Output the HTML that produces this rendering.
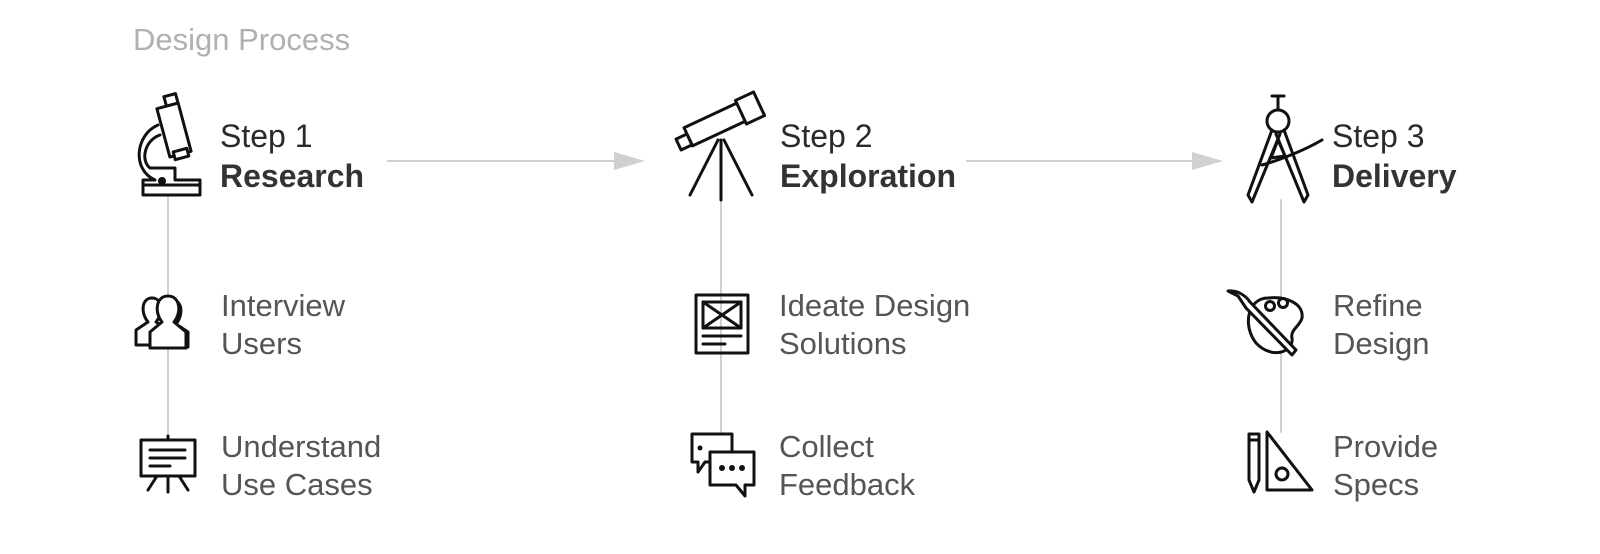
<!DOCTYPE html>
<html><head><meta charset="utf-8"><style>
body{margin:0;width:1600px;height:554px;background:#fff;position:relative;overflow:hidden;font-family:"Liberation Sans",sans-serif}
.t{position:absolute;white-space:nowrap}
.title{left:133px;top:22px;font-size:31px;color:#b0b0b0}
.s{font-size:32px;color:#2a2a2a;line-height:40px}
.s b{font-size:32px;color:#333}
.l{font-size:31px;color:#555;line-height:38px}
svg{position:absolute;left:0;top:0}
</style></head><body>
<div class="t title">Design Process</div>
<svg width="1600" height="554" fill="none" stroke="#111" stroke-width="3" stroke-linejoin="round" stroke-linecap="round">
<g stroke="#d0d0d0" stroke-width="2">
<line x1="168" y1="196" x2="168" y2="440"/>
<line x1="721" y1="200" x2="721" y2="432"/>
<line x1="1281" y1="200" x2="1281" y2="432"/>
<line x1="388" y1="161" x2="620" y2="161"/>
<line x1="967" y1="161" x2="1197" y2="161"/>
</g>
<polygon points="614,152 645,161 614,170" fill="#d0d0d0" stroke="none"/>
<polygon points="1192,152 1223,161 1192,170" fill="#d0d0d0" stroke="none"/>
<g fill="#fff">
<rect x="165" y="95" width="12" height="10" transform="rotate(-15 171 100)"/>
<rect x="163" y="105" width="22" height="50" transform="rotate(-15 174 130)"/>
<rect x="174" y="150" width="14" height="8" transform="rotate(-15 181 154)"/>
<path d="M158 125 C135 135 132 170 155 180 L143 180 L143 190 L200 190 L200 180 L175 180 L175 168 L150 168 C140 160 145 140 160 135"/>
<rect x="143" y="185" width="57" height="10"/>
</g>
<circle cx="162" cy="181" r="2.5" fill="#111"/>
<g fill="#fff">
<rect x="685" y="112" width="70" height="20" transform="rotate(-25 720 122)"/>
<rect x="740" y="95" width="20" height="26" transform="rotate(-25 750 108)"/>
<rect x="678" y="136" width="12" height="12" transform="rotate(-25 684 142)"/>
</g>
<path d="M718 140 L690 195 M721 140 L721 200 M724 140 L752 195"/>
<circle cx="1278" cy="121" r="11" fill="#fff"/>
<path d="M1278 96 L1278 110 M1272 96 L1284 96 M1272 130 L1248 195 L1252 202 L1280 134 M1284 130 L1308 195 L1304 202 L1276 134 M1262 165 C1280 160 1305 150 1322 140 M1271 158 L1278 140 L1285 156 Z"/>
<path d="M136 345 L136 330 L148 322 C140 312 142 298 152 298 C162 298 164 312 156 322 L168 330 L168 345 Z" fill="#fff"/>
<path d="M180 345 L180 330 L192 322 C184 312 186 298 196 298 C206 298 208 312 200 322 L212 330 L212 345 Z" fill="#fff" transform="translate(-24 2)"/>
<path d="M150 348 L150 332 L162 322 C154 312 156 296 168 296 C180 296 182 312 174 322 L186 332 L186 348 Z" fill="#fff"/>
<rect x="141" y="440" width="54" height="36"/>
<path d="M150 450 L185 450 M150 458 L185 458 M150 466 L170 466 M168 436 L168 440 M157 476 L148 490 M179 476 L188 490 M168 476 L168 492"/>
<rect x="696" y="295" width="52" height="58"/>
<rect x="703" y="302" width="38" height="26"/>
<path d="M703 302 L741 328 M741 302 L703 328 M703 336 L741 336 M703 344 L725 344"/>
<path d="M692 434 L732 434 L732 462 L705 462 L698 472 L698 462 L692 462 Z" fill="#fff"/>
<path d="M710 452 L754 452 L754 485 L745 485 L745 496 L736 485 L710 485 Z" fill="#fff"/>
<g fill="#111" stroke="none"><circle cx="722" cy="468" r="3"/><circle cx="732" cy="468" r="3"/><circle cx="742" cy="468" r="3"/><circle cx="700" cy="448" r="2.5"/></g>
<path d="M1268 298 C1248 298 1242 325 1256 343 C1272 360 1294 352 1292 338 C1290 330 1300 326 1302 318 C1304 304 1287 296 1268 298 Z" fill="#fff"/>
<circle cx="1270" cy="306" r="4.5"/><circle cx="1283" cy="303" r="4.5"/>
<path d="M1238 296 L1228 291 C1238 290 1246 296 1250 302 L1296 350 L1292 355 L1246 308 Z" fill="#fff"/>
<path d="M1249 440 L1249 480 L1254 492 L1259 480 L1259 440 Z M1249 434 L1259 434 L1259 440 L1249 440 Z" fill="#fff"/>
<path d="M1267 432 L1267 490 L1312 490 Z"/>
<circle cx="1282" cy="474" r="6"/>
</svg>
<div class="t s" style="left:220px;top:116px">Step 1<br><b>Research</b></div>
<div class="t s" style="left:780px;top:116px">Step 2<br><b>Exploration</b></div>
<div class="t s" style="left:1332px;top:116px">Step 3<br><b>Delivery</b></div>
<div class="t l" style="left:221px;top:287px">Interview<br>Users</div>
<div class="t l" style="left:221px;top:428px">Understand<br>Use Cases</div>
<div class="t l" style="left:779px;top:287px">Ideate Design<br>Solutions</div>
<div class="t l" style="left:779px;top:428px">Collect<br>Feedback</div>
<div class="t l" style="left:1333px;top:287px">Refine<br>Design</div>
<div class="t l" style="left:1333px;top:428px">Provide<br>Specs</div>
</body></html>
